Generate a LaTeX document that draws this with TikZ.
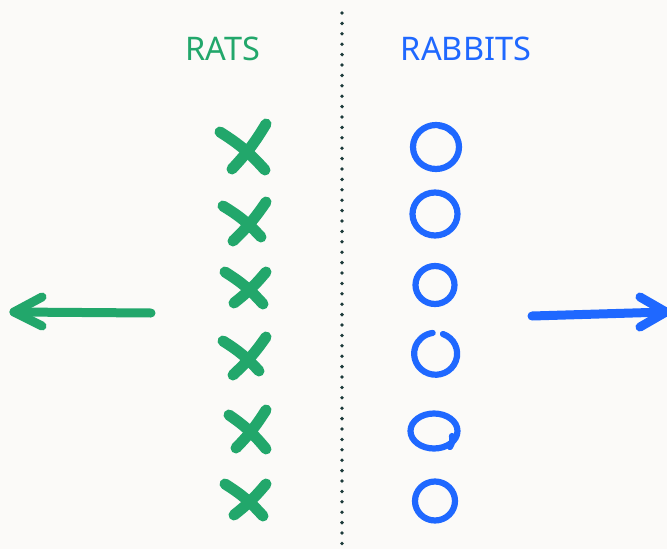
\documentclass[tikz,border=0pt]{standalone}
\usepackage{fontspec}
\setmainfont{Noto Sans}
\definecolor{bg}{HTML}{FBFAF8}
\definecolor{ratgreen}{HTML}{22A76B}
\definecolor{rabblue}{HTML}{1F68FF}
\definecolor{dotc}{HTML}{1C3A3A}
\tikzset{
  xstroke/.style={draw=ratgreen, line width=11pt, line cap=round},
  ostroke/.style={draw=rabblue, line width=6.2pt, line cap=round},
  bigarrow/.style={line width=9pt, line cap=round, line join=round},
  title/.style={font=\fontsize{32.5}{36}\selectfont, anchor=center}
}
\begin{document}
\begin{tikzpicture}[x=1pt,y=-1pt]
\fill[bg] (0,0) rectangle (667,549);
\useasboundingbox (0,0) rectangle (667,549);
% divider
\draw[dotc, line width=3.8pt, line cap=round, dash pattern=on 0pt off 10.4pt] (342,13) -- (342,549);
% titles
\node[title, text=ratgreen] (rats) at (223,49) {RATS};
\node[title, text=rabblue] (rabbits) at (466,49) {RABBITS};
% crosses
\draw[xstroke] (220,132) to[bend left=8] (265,170);
\draw[xstroke] (266,124) to[bend left=6] (232,169);
\draw[xstroke] (223,206) to[bend left=8] (261,237);
\draw[xstroke] (266,202) to[bend left=6] (233,241);
\draw[xstroke] (225,272) to[bend left=8] (263,304);
\draw[xstroke] (266,272) to[bend left=6] (234,303);
\draw[xstroke] (223,341) to[bend left=8] (259,371);
\draw[xstroke] (266,337) to[bend left=6] (233,375);
\draw[xstroke] (229,415) to[bend left=8] (266,449);
\draw[xstroke] (266,410) to[bend left=6] (236,448);
\draw[xstroke] (225,484) to[bend left=8] (263,516);
\draw[xstroke] (266,484) to[bend left=6] (234,515);
% circles
\draw[ostroke] (436,147) ellipse [x radius=23, y radius=22];
\draw[ostroke] (440,126) to[bend left=20] (452,132);
\draw[ostroke] (435,214) ellipse [x radius=22.5, y radius=21.5];
\draw[ostroke] (435,285) ellipse [x radius=19.5, y radius=19];
\draw[ostroke] (443,334) arc[start angle=-70, end angle=262, x radius=21.5, y radius=21];
\draw[ostroke] (434,431) ellipse [x radius=23.5, y radius=17.5];
\draw[ostroke] (452,436) to[bend left=20] (450,447);
\draw[ostroke] (435,501) ellipse [x radius=20, y radius=19.5];
% arrows
\coordinate (la) at (151,313);
\coordinate (lt) at (14,312);
\draw[bigarrow, draw=ratgreen] (la) -- (lt);
\draw[bigarrow, draw=ratgreen] (42,297) -- (lt) -- (42,326);
\coordinate (ra) at (532,316);
\coordinate (rt) at (666,312);
\draw[bigarrow, draw=rabblue] (ra) -- (rt);
\draw[bigarrow, draw=rabblue] (640,297) -- (rt) -- (640,327);
\end{tikzpicture}
\end{document}
